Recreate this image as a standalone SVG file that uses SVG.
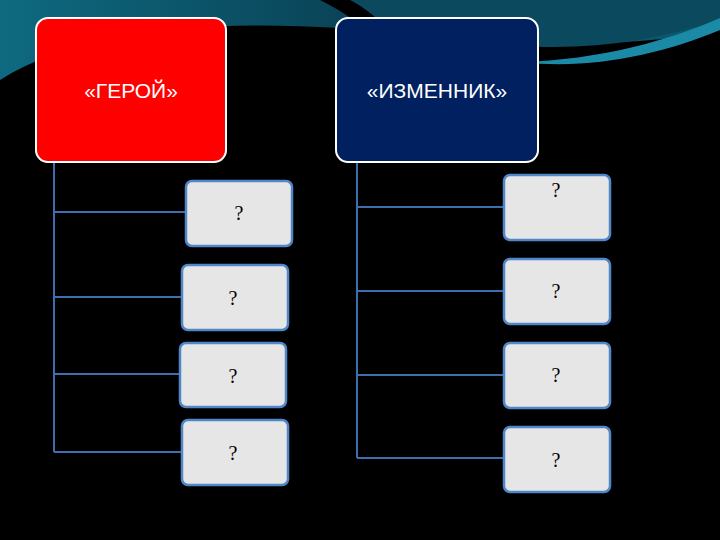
<svg xmlns="http://www.w3.org/2000/svg" width="720" height="540" viewBox="0 0 720 540">
<defs>
<linearGradient id="sw" x1="0" y1="0" x2="1" y2="0"><stop offset="0" stop-color="#0e6a80"/><stop offset="0.5" stop-color="#0a4256"/><stop offset="1" stop-color="#0d5a70"/></linearGradient>
<style>
.top{stroke:#fff;stroke-width:2}
.tt{font-family:"Liberation Sans",Arial,sans-serif;font-size:21px;fill:#fff;text-anchor:middle}
.q{fill:#e6e6e6;stroke:#4f87c8;stroke-width:2.5}
.qt{font-family:"Liberation Serif","Times New Roman",serif;font-size:20px;fill:#000;text-anchor:middle}
.c{stroke:#3d6fb0;stroke-width:2;fill:none}
</style>
</defs>
<rect width="720" height="540" fill="#000"/>
<path d="M0 0 H720 V30 C600 55 450 40 340 28 C200 20 80 30 0 80 Z" fill="url(#sw)"/>
<path d="M330 0 C380 20 420 30 470 40 C560 55 640 45 720 20 V0 Z" fill="#0b4a5e"/>
<path d="M520 62 C600 60 670 40 720 18 V30 C660 55 590 70 520 62 Z" fill="#1a8aa6"/>
<path d="M320 0 C340 10 355 20 365 30 L380 22 C370 12 360 5 350 0 Z" fill="#000"/>
<g class="c">
<path d="M54 162 V452 M54 212 H186 M54 297 H182 M54 374 H180 M54 452 H182"/>
<path d="M357 162 V458 M357 207 H504 M357 291 H504 M357 375 H504 M357 458 H504"/>
</g>
<g id="hero"><rect class="top" x="36" y="18" width="190" height="144" rx="12" fill="#ff0000"/><text class="tt" x="131" y="98">«ГЕРОЙ»</text></g>
<g id="traitor"><rect class="top" x="336" y="18" width="202" height="144" rx="12" fill="#002060"/><text class="tt" x="437" y="98">«ИЗМЕННИК»</text></g>
<g id="l1"><rect class="q" x="186" y="181" width="106" height="65" rx="6"/><text class="qt" x="239" y="220">?</text></g>
<g id="l2"><rect class="q" x="182" y="265" width="106" height="65" rx="6"/><text class="qt" x="233" y="305">?</text></g>
<g id="l3"><rect class="q" x="180" y="343" width="106" height="64" rx="6"/><text class="qt" x="233" y="383">?</text></g>
<g id="l4"><rect class="q" x="182" y="420" width="106" height="65" rx="6"/><text class="qt" x="233" y="460">?</text></g>
<g id="r1"><rect class="q" x="504" y="175" width="106" height="65" rx="6"/><text class="qt" x="556" y="197">?</text></g>
<g id="r2"><rect class="q" x="504" y="259" width="106" height="65" rx="6"/><text class="qt" x="556" y="298">?</text></g>
<g id="r3"><rect class="q" x="504" y="343" width="106" height="65" rx="6"/><text class="qt" x="556" y="382">?</text></g>
<g id="r4"><rect class="q" x="504" y="427" width="106" height="65" rx="6"/><text class="qt" x="556" y="467">?</text></g>
</svg>
